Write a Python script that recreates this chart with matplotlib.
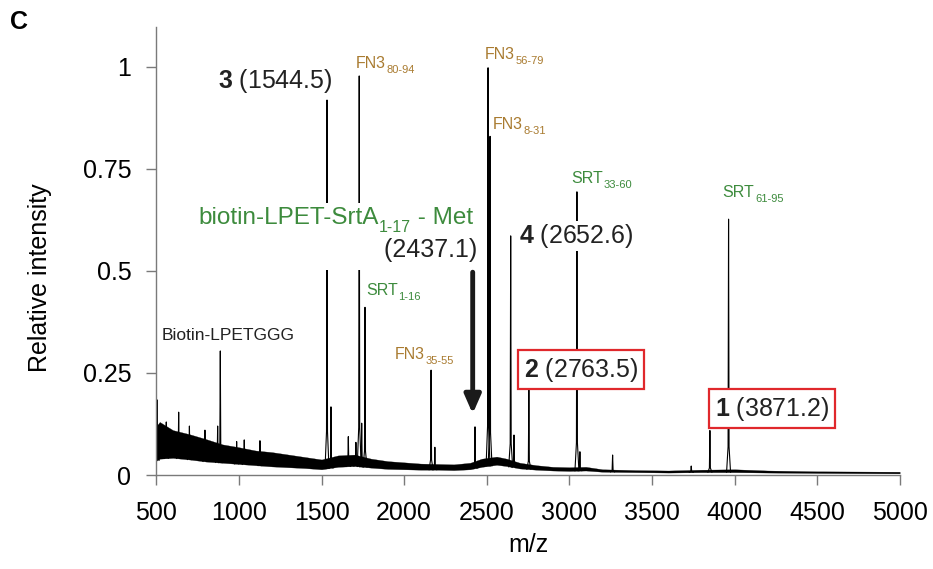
import matplotlib
matplotlib.use("Agg")
import matplotlib.pyplot as plt
import numpy as np

plt.rcParams['font.family'] = ['Liberation Sans', 'DejaVu Sans']
plt.rcParams['mathtext.fontset'] = 'custom'
plt.rcParams['mathtext.rm'] = 'Liberation Sans'
plt.rcParams['mathtext.bf'] = 'Liberation Sans:bold'

# peaks (m/z, relative intensity)
peak_mz = [505, 560, 635, 700, 794, 871, 887, 986, 1032, 1127, 1533, 1557, 1662,
           1708, 1728, 1743, 1763, 2163, 2186, 2429, 2508, 2520, 2645, 2665, 2755,
           3046, 3064, 3262, 3738, 3851, 3964]
peak_int = [0.184, 0.13, 0.154, 0.12, 0.11, 0.12, 0.304, 0.082, 0.086, 0.084, 0.919, 0.167, 0.094,
            0.08, 0.978, 0.127, 0.411, 0.257, 0.068, 0.118, 0.998, 0.83, 0.586, 0.098, 0.212,
            0.694, 0.057, 0.049, 0.022, 0.109, 0.627]

# noisy baseline band (lower / upper envelope)
base_mz = [500, 520, 600, 700, 800, 900, 1000, 1100, 1200, 1300, 1400, 1500, 1600, 1700,
           1800, 1900, 2000, 2100, 2200, 2300, 2400, 2470, 2560, 2620, 2700, 2800, 2900,
           3000, 3100, 3200, 3400, 3600, 3800, 4000, 4200, 4500, 5000]
base_lo = [0.035, 0.04, 0.042, 0.038, 0.033, 0.03, 0.027, 0.024, 0.021, 0.019, 0.017, 0.014,
           0.02, 0.022, 0.018, 0.015, 0.014, 0.013, 0.013, 0.012, 0.014, 0.02, 0.025, 0.022,
           0.016, 0.013, 0.011, 0.01, 0.011, 0.008, 0.007, 0.006, 0.007, 0.007, 0.006, 0.005, 0.004]
base_hi = [0.12, 0.13, 0.11, 0.1, 0.088, 0.075, 0.068, 0.06, 0.056, 0.05, 0.044, 0.038,
           0.048, 0.05, 0.04, 0.034, 0.031, 0.028, 0.027, 0.026, 0.03, 0.04, 0.045, 0.04,
           0.03, 0.024, 0.02, 0.019, 0.02, 0.014, 0.012, 0.011, 0.013, 0.014, 0.011, 0.009, 0.008]

xticks = [500, 1000, 1500, 2000, 2500, 3000, 3500, 4000, 4500, 5000]
yticks = [0, 0.25, 0.5, 0.75, 1]
ytick_labels = ['0', '0.25', '0.5', '0.75', '1']

brown = '#a97b30'
green = '#3d8b3d'
dark = '#222222'

fig = plt.figure(figsize=(9.33, 5.69), dpi=100)
ax = fig.add_axes([0.1676, 0.1652, 0.7967, 0.7874])

# baseline band
ax.fill_between(base_mz, base_lo, base_hi, color='black', lw=0.2, zorder=2)

# peaks
w = 12
for mz, h in zip(peak_mz, peak_int):
    b = np.interp(mz, base_mz, base_lo)
    xs = [mz - w, mz - w / 4, mz, mz + w / 4, mz + w]
    ys = [b, b + 0.1 * (h - b), h, b + 0.1 * (h - b), b]
    ax.plot(xs, ys, color='black', lw=0.8, zorder=2)

ax.set_xlim(500, 5000)
ax.set_ylim(0, 1.098)
ax.set_xticks(xticks)
ax.set_yticks(yticks)
ax.set_yticklabels(ytick_labels)
for s in ['top', 'right']:
    ax.spines[s].set_visible(False)
for s in ['left', 'bottom']:
    ax.spines[s].set_color('#7a7a7a')
    ax.spines[s].set_linewidth(1.0)
ax.tick_params(axis='y', direction='out', length=7, width=1, color='#7a7a7a', pad=11, labelsize=18)
ax.tick_params(axis='x', direction='out', length=7, width=1, color='#7a7a7a', pad=12, labelsize=18)

ax.set_ylabel('Relative intensity', fontsize=18)
ax.yaxis.set_label_coords(-0.14, 0.44)
ax.set_xlabel('m/z', fontsize=18, va='top')
ax.xaxis.set_label_coords(0.5, -0.13)

white = dict(boxstyle='square,pad=0.05', fc='white', ec='none')
white_big = dict(boxstyle='square,pad=0.15', fc='white', ec='none')


def sublabel(x, y, main, sub, color, size, subsize, tail=None, box=None, drop=-1.5):
    t = ax.text(x, y, main, color=color, fontsize=size, ha='left', va='baseline',
                zorder=6, bbox=box)
    s = ax.annotate(sub, xy=(1, 0), xycoords=t, xytext=(0.5, drop),
                    textcoords='offset points', color=color, fontsize=subsize,
                    ha='left', va='baseline', zorder=7)
    if tail:
        ax.annotate(tail, xy=(1, 0), xycoords=(s, t), color=color, fontsize=size,
                    ha='left', va='bottom', zorder=6, bbox=box)
    return t


sublabel(1709, 0.998, 'FN3', '80-94', brown, 11.5, 8)
sublabel(2489, 1.02, 'FN3', '56-79', brown, 11.5, 8)
sublabel(2537, 0.848, 'FN3', '8-31', brown, 11.5, 8)
sublabel(1943, 0.284, 'FN3', '35-55', brown, 11.5, 8)
sublabel(3010, 0.716, 'SRT', '33-60', green, 11.5, 8)
sublabel(3928, 0.681, 'SRT', '61-95', green, 11.5, 8)
sublabel(1768, 0.441, 'SRT', '1-16', green, 11.5, 8)
sublabel(752, 0.615, 'biotin-LPET-SrtA', '1-17', green, 17.5, 11.5, tail=' - Met',
         box=white_big, drop=-2)

ax.text(534, 0.331, 'Biotin-LPETGGG', color=dark, fontsize=12.5, ha='left', va='baseline')

ax.text(873, 0.949, r'$\mathbf{3}$ (1544.5)', color=dark, fontsize=18, ha='left', va='baseline', zorder=6)
# the white box of this label reaches left over the 1544.5 / FN3 80-94 lines
ax.text(2443, 0.534, ' ' * 14 + '(2437.1)', color=dark, fontsize=18, ha='right', va='baseline',
        zorder=5, bbox=dict(boxstyle='square,pad=0.3', fc='white', ec='none'))
ax.text(2694, 0.569, r'$\mathbf{4}$ (2652.6)', color=dark, fontsize=18, ha='left', va='baseline',
        zorder=6, bbox=white)

red_box = dict(boxstyle='square,pad=0.22', fc='white', ec='#e0282c', lw=1.6)
ax.text(2725, 0.241, r'$\mathbf{2}$ (2763.5)', color=dark, fontsize=18, ha='left', va='baseline',
        zorder=6, bbox=red_box)
ax.text(3881, 0.145, r'$\mathbf{1}$ (3871.2)', color=dark, fontsize=18, ha='left', va='baseline',
        zorder=6, bbox=red_box)

ax.annotate('', xy=(2415, 0.15), xytext=(2415, 0.497),
            arrowprops=dict(arrowstyle='-|>,head_length=0.8,head_width=0.35', color='#1a1a1a',
                            lw=3.5, shrinkA=0, shrinkB=0, mutation_scale=14), zorder=7)

fig.text(0.011, 1 - 29 / 569, 'C', fontsize=18, fontweight='bold', ha='left', va='baseline')

fig.savefig('out.png', dpi=100)
